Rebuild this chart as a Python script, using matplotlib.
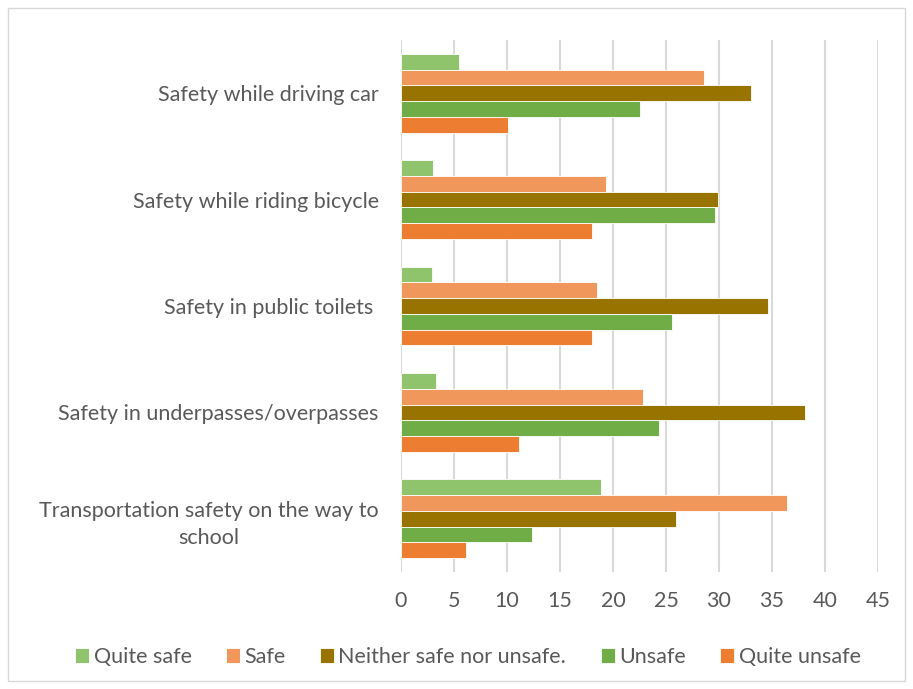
import numpy as np
import matplotlib.pyplot as plt
from matplotlib.patches import Rectangle

categories = ['Safety while driving car', 'Safety while riding bicycle',
              'Safety in public toilets ', 'Safety in underpasses/overpasses',
              'Transportation safety on the way to\nschool']
series = ['Quite safe', 'Safe', 'Neither safe nor unsafe.', 'Unsafe', 'Quite unsafe']
quite_safe = [5.5, 3.0, 2.9, 3.3, 18.9]
safe = [28.6, 19.3, 18.5, 22.8, 36.4]
neither = [33.0, 29.9, 34.6, 38.1, 25.9]
unsafe = [22.5, 29.6, 25.6, 24.3, 12.4]
quite_unsafe = [10.1, 18.0, 18.0, 11.1, 6.1]
values = [quite_safe, safe, neither, unsafe, quite_unsafe]
colors = ['#8FC36C', '#F0985B', '#997300', '#70AD47', '#ED7D31']

plt.rcParams['font.family'] = ['Lato', 'DejaVu Sans']
txt = '#595959'
fs = 15.5

fig = plt.figure( figsize=( 9.13, 6.89 ), dpi=100 )
fig.patches.append( Rectangle( ( 0.009, 0.012 ), 0.982, 0.976, transform=fig.transFigure,
                               fill=False, ec='#D9D9D9', lw=1.0 ) )
ax = fig.add_axes( [ 401/913, 1 - 572/689, ( 878 - 401 )/913, ( 572 - 40 )/689 ] )

n = len( series )
h = 0.148
y = np.arange( len( categories ) )
for i in range( n ):
    off = ( i - ( n - 1 )/2 ) * h
    ax.barh( y + off, values[i], height=h, color=colors[i], ec='white', lw=0.6,
             label=series[i], zorder=3 )

ax.set_xlim( 0, 45 )
ax.set_ylim( len( categories ) - 0.5, -0.5 )
ax.set_xticks( np.arange( 0, 46, 5 ) )
ax.set_yticks( y )
ax.set_yticklabels( categories, fontsize=fs, color=txt, multialignment='center', linespacing=1.45 )
ax.tick_params( axis='x', labelsize=fs, colors=txt, length=0, pad=14 )
ax.tick_params( axis='y', length=0, pad=16 )
ax.grid( axis='x', color='#D9D9D9', lw=1.5, zorder=0 )
for s in ax.spines.values():
    s.set_visible( False )

ax.legend( loc='center', bbox_to_anchor=( 468/913, 1 - 657/689 ), bbox_transform=fig.transFigure,
           ncol=5, frameon=False, fontsize=fs, labelcolor=txt, handlelength=0.65,
           handleheight=0.65, handletextpad=0.2, columnspacing=1.6 )

fig.savefig( 'out.png', dpi=100 )
